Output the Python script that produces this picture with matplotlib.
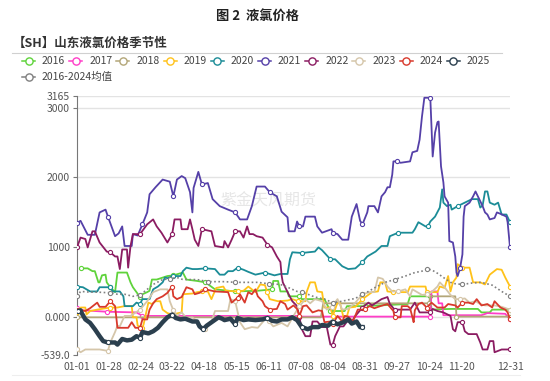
import numpy as np
import matplotlib
matplotlib.use("Agg")
import matplotlib.pyplot as plt

plt.rcParams["font.family"] = ["Noto Sans CJK SC", "DejaVu Sans"]

# x axis: day of year (0 = 01-01)
TICK_DAYS = [0, 27, 54, 80, 107, 134, 161, 188, 215, 242, 269, 296, 323, 364]
TICK_LABELS = ["01-01", "01-28", "02-24", "03-22", "04-18", "05-15", "06-11",
               "07-08", "08-04", "08-31", "09-27", "10-24", "11-20", "12-31"]
Y_TICKS = [-539, 0, 1000, 2000, 3000, 3165]
Y_LABELS = ["-539.0", "0.000", "1000", "2000", "3000", "3165"]

# (day, price) pairs
Y2016 = [(3, 700), (9, 700), (13, 660), (15, 660), (18, 500), (19, 500), (21, 600), (24, 610),
         (25, 500), (28, 430), (32, 360), (34, 640), (42, 640), (45, 500), (47, 430), (50, 360),
         (53, 290), (55, 330), (59, 360), (61, 380), (63, 540), (67, 540), (76, 590), (81, 600),
         (89, 640), (92, 540), (101, 520), (108, 500), (116, 400), (133, 370), (152, 380),
         (164, 400), (165, 520), (169, 520), (171, 370), (177, 370), (178, 300), (187, 300),
         (189, 260), (208, 260), (213, 90), (225, 90), (227, 160), (242, 160), (278, 190),
         (280, 300), (297, 300), (298, 110), (314, 120), (337, 120), (340, 70), (347, 70),
         (349, 110), (364, 110)]
Y2017 = [(0, 130), (5, 100), (25, 80), (50, 70), (55, 20), (185, 20), (187, 10), (297, 10),
         (298, 370), (303, 370), (304, 200), (307, 200), (308, 30), (340, 30), (345, 60),
         (360, 50), (364, -30)]
Y2018 = [(0, 0), (205, 0), (207, 200), (296, 200), (297, 300), (318, 300), (319, 10), (364, 10)]
Y2019 = [(0, 70), (3, 140), (7, 140), (8, 40), (11, 90), (17, 110), (28, 140), (34, 140),
         (40, 160), (46, 160), (47, 0), (50, 0), (51, -120), (55, -150), (56, -100), (60, 210),
         (63, 190), (66, 230), (70, 230), (72, 110), (76, 60), (80, 40), (88, 70), (89, 330),
         (97, 340), (101, 360), (105, 370), (110, 370), (113, 260), (117, 420), (123, 440),
         (125, 380), (135, 370), (140, 380), (144, 440), (150, 360), (154, 470), (158, 460),
         (160, 360), (162, 260), (169, 230), (177, 240), (181, 260), (186, 230), (192, 230),
         (193, 360), (196, 500), (200, 500), (202, 370), (206, 360), (208, 140), (213, 140),
         (215, 20), (219, 210), (221, 210), (224, 0), (227, 20), (229, 140), (234, 150),
         (240, 260), (248, 360), (253, 370), (255, 500), (259, 500), (261, 370), (266, 360),
         (278, 360), (280, 440), (293, 440), (294, 360), (303, 360), (305, 440), (309, 420),
         (312, 590), (314, 370), (316, 500), (319, 570), (320, 760), (324, 710), (330, 710),
         (333, 500), (339, 500), (343, 470), (347, 610), (353, 690), (357, 680), (360, 570),
         (364, 440)]
Y2020 = [(0, 440), (5, 430), (11, 370), (17, 370), (19, 430), (28, 430), (30, 370), (36, 370),
         (39, 300), (40, 160), (47, 160), (50, 210), (53, 190), (55, 260), (61, 260), (64, 400),
         (68, 440), (72, 500), (74, 570), (76, 560), (81, 590), (87, 590), (89, 660), (92, 710),
         (97, 690), (101, 690), (108, 700), (116, 690), (120, 610), (124, 610), (127, 660),
         (131, 660), (135, 710), (140, 680), (144, 650), (150, 610), (158, 640), (166, 600),
         (171, 620), (177, 620), (179, 830), (181, 930), (189, 920), (200, 940), (203, 1000),
         (206, 960), (213, 830), (217, 830), (223, 730), (228, 690), (234, 700), (240, 790),
         (244, 870), (251, 940), (256, 1020), (261, 1020), (263, 1160), (270, 1210),
         (282, 1210), (284, 1260), (287, 1360), (293, 1300), (295, 1300), (297, 1370),
         (301, 1440), (305, 1570), (307, 1830), (308, 1640), (311, 1590), (314, 1610),
         (315, 1540), (320, 1590), (326, 1640), (332, 1690), (337, 1690), (339, 1570),
         (341, 1600), (343, 1800), (345, 1800), (347, 1640), (351, 1610), (354, 1640),
         (357, 1470), (361, 1470), (364, 1360)]
Y2021 = [(0, 1350), (3, 1380), (9, 1180), (15, 1180), (19, 1500), (24, 1540), (26, 1440),
         (32, 1160), (35, 1200), (38, 1300), (40, 1020), (46, 1020), (47, 1190), (51, 1170),
         (55, 1330), (59, 1500), (61, 1760), (66, 1860), (72, 1970), (78, 1940), (81, 1730),
         (84, 1970), (88, 2020), (91, 1990), (95, 1790), (97, 1500), (98, 1850), (102, 2080),
         (105, 1900), (110, 1920), (114, 1690), (120, 1590), (127, 1540), (133, 1500),
         (137, 1400), (143, 1400), (147, 1590), (151, 1870), (158, 1870), (162, 1790),
         (168, 1730), (172, 1510), (177, 1430), (178, 1230), (183, 1230), (185, 1370),
         (187, 1300), (190, 1300), (192, 1440), (200, 1440), (202, 1300), (206, 1210),
         (214, 1260), (215, 1210), (219, 1190), (223, 1110), (228, 1110), (231, 1440),
         (235, 1620), (238, 1380), (240, 1330), (244, 1500), (245, 1590), (250, 1590),
         (253, 1500), (256, 1730), (259, 1790), (261, 1860), (263, 1860), (265, 2040),
         (266, 2230), (269, 2230), (272, 2210), (280, 2230), (282, 2360), (286, 2380),
         (288, 2540), (290, 2870), (292, 3140), (297, 3140), (298, 2730), (299, 2300),
         (301, 2640), (303, 2790), (304, 2800), (306, 2160), (308, 1930), (309, 1730),
         (312, 1640), (313, 1090), (316, 1070), (318, 870), (319, 640), (320, 590), (322, 700),
         (324, 900), (325, 1440), (326, 1590), (330, 1640), (333, 1730), (335, 1800),
         (337, 1730), (341, 1590), (343, 1500), (345, 1470), (347, 1400), (351, 1420),
         (353, 1500), (356, 1480), (361, 1440), (362, 1360), (364, 1000)]
Y2022 = [(0, 1000), (3, 1140), (7, 1120), (9, 1000), (13, 1230), (15, 1230), (19, 1070),
         (25, 940), (28, 930), (32, 870), (34, 870), (36, 690), (38, 970), (42, 970), (43, 710),
         (45, 1020), (47, 1190), (53, 1190), (59, 1330), (64, 1400), (67, 1300), (71, 1210),
         (76, 1070), (80, 1190), (82, 1400), (87, 1400), (88, 1260), (93, 1260), (95, 1400),
         (97, 1260), (99, 1110), (102, 1020), (105, 1260), (113, 1230), (116, 1020),
         (123, 1000), (124, 1090), (127, 1000), (130, 1110), (133, 1230), (137, 1230),
         (140, 1140), (143, 1300), (145, 1190), (148, 1190), (151, 1160), (156, 1140),
         (160, 1040), (164, 1000), (168, 870), (171, 790), (172, 600), (173, 500), (177, 360),
         (181, 230), (185, 160), (187, 0), (189, -170), (192, -270), (196, -270), (198, -60),
         (202, -60), (206, -140), (210, -140), (213, -390), (215, -390), (217, -270),
         (221, -130), (224, -130), (227, -60), (231, -60), (234, 20), (240, 140), (245, 210),
         (248, 170), (256, 260), (261, 290), (263, 190), (267, 110), (280, 110), (284, 210),
         (288, 70), (297, 70), (299, 120), (303, 90), (308, 70), (314, 20), (316, -170),
         (318, -200), (320, -70), (324, -70), (326, -200), (329, -240), (336, -240),
         (339, -360), (341, -460), (345, -460), (347, -340), (350, -340), (351, -500),
         (354, -480), (357, -460), (364, -460)]
Y2023 = [(0, -460), (3, -500), (7, -460), (19, -460), (26, -480), (28, -360), (32, -210),
         (34, -120), (36, -130), (40, 20), (45, 20), (53, 110), (59, 230), (64, 360), (70, 400),
         (76, 400), (78, 230), (81, 100), (84, 20), (88, 70), (92, -10), (97, 0), (102, -70),
         (105, -170), (108, -170), (113, -70), (116, 90), (127, 90), (129, 260), (133, 230),
         (137, -70), (141, -170), (147, -140), (152, -150), (158, -30), (161, -50), (165, -130),
         (172, -80), (177, -130), (182, 20), (187, 160), (192, 260), (196, 200), (200, 260),
         (206, 230), (210, 110), (214, 150), (219, 260), (223, 110), (228, 120), (234, 210),
         (240, 330), (246, 360), (250, 360), (253, 570), (257, 550), (261, 440), (265, 370),
         (270, 370), (276, 400), (280, 300), (282, 400), (286, 360), (290, 320), (294, 330),
         (298, 360), (303, 440), (305, 500), (309, 430), (314, 320), (318, 260), (322, 260),
         (326, 270), (330, 210), (335, 230), (339, 190), (343, 170), (351, 170), (357, 150),
         (364, 110)]
Y2024 = [(0, 110), (7, 90), (11, 130), (17, 210), (19, 150), (24, 150), (28, 230), (32, 160),
         (34, -150), (43, -150), (46, -70), (49, -150), (53, -150), (55, -30), (59, -30),
         (61, 110), (64, 200), (67, 260), (72, 300), (76, 350), (80, 440), (81, 300), (84, 260),
         (88, 290), (92, 430), (97, 400), (99, 330), (103, 350), (108, 400), (116, 370),
         (127, 360), (130, 210), (135, 280), (137, 330), (141, 210), (144, 360), (147, 330),
         (150, 400), (152, 300), (156, 230), (158, 160), (162, 110), (168, 120), (171, 230),
         (175, 190), (177, 110), (182, 170), (185, 120), (187, 20), (190, 160), (193, 170),
         (198, 70), (203, 100), (206, 90), (208, -70), (213, -60), (215, -100), (219, 20),
         (223, -60), (225, 20), (228, 10), (232, -60), (236, 110), (240, 110), (242, 120),
         (246, 160), (250, 130), (255, 160), (261, 190), (266, 90), (267, 0), (272, 0),
         (273, 160), (278, 160), (280, 130), (282, 0), (283, -70), (284, 100), (287, 190),
         (290, 210), (294, 140), (298, 210), (303, 140), (309, 140), (312, 190), (318, 170),
         (320, 140), (324, 210), (329, 210), (333, 190), (336, 260), (340, 170), (345, 190),
         (349, 140), (351, 230), (356, 140), (360, 110), (362, 70), (364, -30)]
Y2025 = [(1, 90), (3, 100), (4, 60), (7, -30), (11, -80), (15, -170), (19, -270), (22, -340),
         (26, -360), (32, -360), (34, -390), (38, -310), (42, -330), (46, -320), (50, -270),
         (53, -290), (55, -210), (60, -230), (64, -200), (68, -150), (72, -70), (76, 0), (80, 40),
         (83, -10), (87, -30), (91, -20), (97, -60), (101, -60), (103, -130), (106, -170),
         (109, -120), (114, -60), (119, 0), (122, -20), (124, -40), (129, -20), (133, -100),
         (135, -10), (140, -40), (144, -30), (150, -40), (156, -30), (160, -10), (164, -50),
         (168, -60), (172, -30), (177, -30), (181, 0), (185, -40), (189, -140), (194, -170),
         (198, -140), (203, -140), (206, -110), (211, -120), (215, -60), (219, -100),
         (224, -70), (228, -30), (231, -90), (235, -60), (238, -140), (240, -140)]
AVG = [(0, 300), (3, 370), (11, 360), (17, 360), (28, 350), (34, 330), (40, 330), (47, 300),
       (53, 320), (59, 400), (64, 470), (72, 540), (78, 550), (84, 570), (89, 540), (101, 540),
       (110, 510), (124, 510), (133, 500), (152, 500), (161, 480), (171, 470), (177, 430),
       (185, 370), (189, 360), (194, 330), (200, 290), (208, 260), (215, 210), (223, 230),
       (228, 250), (234, 270), (240, 330), (245, 370), (251, 430), (259, 500), (267, 540),
       (276, 590), (284, 640), (290, 660), (294, 690), (298, 680), (303, 630), (308, 570),
       (314, 500), (318, 480), (324, 470), (332, 490), (340, 500), (349, 460), (357, 370),
       (364, 300)]

NAMES = ["2016", "2017", "2018", "2019", "2020", "2021", "2022", "2023", "2024", "2025"]
DATA = [Y2016, Y2017, Y2018, Y2019, Y2020, Y2021, Y2022, Y2023, Y2024, Y2025]
COLORS = ["#5fd33b", "#ff3ec8", "#b3a678", "#ffc21a", "#1b8c97",
          "#5540a8", "#8b1c62", "#d5c6aa", "#d8392c", "#2b3f4e"]
AVG_NAME = "2016-2024均值"
AVG_COLOR = "#808080"


def mark_index(days):
    d = np.asarray(days)
    idx = set()
    for t in TICK_DAYS:
        i = int(np.abs(d - t).argmin())
        if abs(d[i] - t) <= 4:
            idx.add(i)
    return sorted(idx)


fig = plt.figure(figsize=(5.5, 3.81), dpi=100)

# pixel-space overlay for titles, legend and watermark
ov = fig.add_axes([0, 0, 1, 1], zorder=0)
ov.set_xlim(0, 550)
ov.set_ylim(381, 0)
ov.axis("off")

ov.text(258, 16, "图 2  液氯价格", ha="center", va="center", fontsize=9.5,
        fontweight="bold", color="#222222")
ov.text(13, 43, "【SH】山东液氯价格季节性", ha="left", va="center", fontsize=9,
        fontweight="bold", color="#333333")
ov.plot([12, 502], [53, 53], color="#d0d0d0", lw=0.8)
ov.plot([12, 520], [375, 375], color="#eeeeee", lw=0.8)
ov.text(268, 201, "紫金天风期货", ha="center", va="center", fontsize=11.5, color="#e6e6e6")

legend_items = list(zip(NAMES, COLORS)) + [(AVG_NAME, AVG_COLOR)]
for i, (name, c) in enumerate(legend_items):
    row, col = divmod(i, 10)
    x0 = 22 + col * 47.2
    y0 = 61 + row * 16
    ov.plot([x0, x0 + 13], [y0, y0], color=c, lw=1.1)
    ov.plot([x0 + 6.5], [y0], marker="o", ms=5.2, mfc="white", mec=c, mew=1.0)
    ov.text(x0 + 20, y0, name, ha="left", va="center", fontsize=7.5, color="#444444")

ax = fig.add_axes([77 / 550, 1 - 355 / 381, (510 - 77) / 550, (355 - 96) / 381], zorder=1)
ax.patch.set_alpha(0)

for k, (name, pts, c) in enumerate(zip(NAMES, DATA, COLORS)):
    days = [p[0] for p in pts]
    vals = [p[1] for p in pts]
    lw = 3.2 if name == "2025" else 1.3
    ax.plot(days, vals, color=c, lw=lw, marker="o", markevery=mark_index(days), ms=3,
            mfc="white", mec=c, mew=0.8, zorder=2 + k, solid_joinstyle="round")

avg_days = [p[0] for p in AVG]
avg_vals = [p[1] for p in AVG]
ax.plot(avg_days, avg_vals, color=AVG_COLOR, lw=1.2, ls=(0, (1, 1.5)), marker="o",
        markevery=mark_index(avg_days), ms=3, mfc="white", mec=AVG_COLOR, mew=0.8, zorder=13)

ax.set_xlim(0, 364)
ax.set_ylim(-539, 3165)
ax.set_xticks(TICK_DAYS)
ax.set_xticklabels(TICK_LABELS)
ax.set_yticks(Y_TICKS)
ax.set_yticklabels(Y_LABELS)
ax.yaxis.grid(True, color="#e3e3e3", lw=1)
ax.set_axisbelow(True)
for s in ["top", "right", "bottom"]:
    ax.spines[s].set_visible(False)
ax.spines["left"].set_color("#777777")
ax.tick_params(axis="y", length=3, color="#777777", labelsize=7.5, labelcolor="#555555", pad=2)
ax.tick_params(axis="x", length=0, labelsize=7.5, labelcolor="#555555", pad=5)

fig.savefig("out.png", dpi=100)
